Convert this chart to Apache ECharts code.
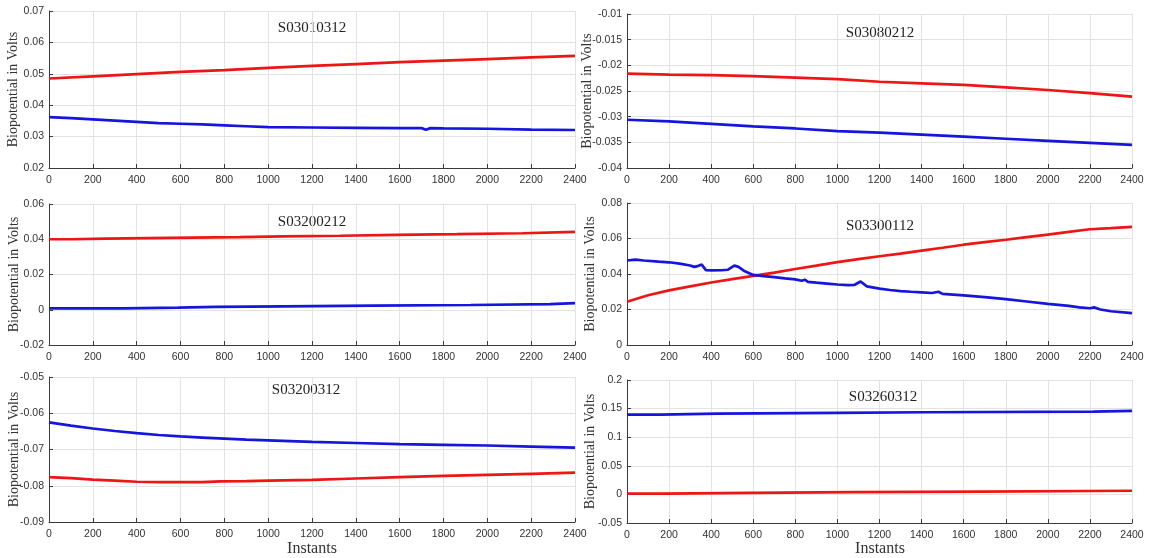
<!DOCTYPE html>
<html>
<head>
<meta charset="utf-8">
<script src="https://cdn.jsdelivr.net/npm/echarts@6/dist/echarts.min.js"></script>
<style>
  html, body { margin: 0; padding: 0; background: #fff; }
  #chart { width: 1157px; height: 558px; }
</style>
</head>
<body>
<div id="chart"></div>
<script>
// Recording names
const titles = ['S03010312', 'S03080212', 'S03200212', 'S03300112', 'S03200312', 'S03260312'];

// S03010312
const p1RedX  = [0, 200, 400, 600, 800, 1000, 1200, 1400, 1600, 1800, 2000, 2200, 2400];
const p1Red   = [0.0485, 0.0492, 0.0499, 0.0506, 0.0512, 0.0519, 0.0525, 0.0531, 0.0537, 0.0542, 0.0547, 0.0552, 0.0557];
const p1BlueX = [0, 100, 200, 300, 400, 500, 600, 700, 800, 900, 1000, 1200, 1400, 1600, 1700, 1720, 1740, 1800, 2000, 2200, 2400];
const p1Blue  = [0.0362, 0.0359, 0.0355, 0.0351, 0.0347, 0.0343, 0.0341, 0.0339, 0.0336, 0.0333, 0.0330, 0.0329, 0.0328, 0.0327, 0.0327, 0.0322, 0.0327, 0.0326, 0.0325, 0.0322, 0.0321];

// S03080212
const p2X    = [0, 200, 400, 600, 800, 1000, 1200, 1400, 1600, 1800, 2000, 2200, 2400];
const p2Red  = [-0.0216, -0.0218, -0.0219, -0.0221, -0.0224, -0.0227, -0.0232, -0.0235, -0.0238, -0.0243, -0.0248, -0.0254, -0.0261];
const p2Blue = [-0.0306, -0.0309, -0.0314, -0.0319, -0.0323, -0.0328, -0.0331, -0.0335, -0.0339, -0.0343, -0.0347, -0.0351, -0.0355];

// S03200212 (quantised, step changes)
const p3RedX  = [0, 100, 260, 450, 650, 870, 1070, 1330, 1580, 1860, 2160, 2400];
const p3Red   = [0.0400, 0.0403, 0.0406, 0.0409, 0.0412, 0.0416, 0.0420, 0.0425, 0.0429, 0.0434, 0.0442, 0.0442];
const p3BlueX = [0, 340, 590, 760, 1070, 1480, 1925, 2286, 2400];
const p3Blue  = [0.0008, 0.0012, 0.0016, 0.0019, 0.0023, 0.0027, 0.0032, 0.0038, 0.0038];

// S03300112
const p4RedX  = [0, 100, 200, 300, 400, 500, 600, 700, 800, 900, 1000, 1100, 1200, 1300, 1400, 1500, 1600, 1700, 1800, 1900, 2000, 2100, 2200, 2300, 2400];
const p4Red   = [0.0244, 0.0280, 0.0308, 0.0330, 0.0352, 0.0371, 0.0389, 0.0408, 0.0428, 0.0447, 0.0467, 0.0484, 0.0500, 0.0515, 0.0532, 0.0548, 0.0565, 0.0580, 0.0593, 0.0608, 0.0622, 0.0637, 0.0652, 0.0658, 0.0665];
const p4BlueX = [0, 40, 80, 150, 200, 250, 300, 320, 340, 355, 375, 400, 450, 480, 510, 530, 560, 600, 650, 700, 750, 800, 830, 845, 860, 900, 950, 1000, 1050, 1080, 1110, 1140, 1200, 1250, 1300, 1350, 1400, 1450, 1480, 1500, 1550, 1600, 1700, 1800, 1900, 2000, 2100, 2150, 2200, 2220, 2250, 2300, 2400];
const p4Blue  = [0.0476, 0.0481, 0.0476, 0.0470, 0.0466, 0.0458, 0.0448, 0.0440, 0.0446, 0.0453, 0.0422, 0.0420, 0.0421, 0.0424, 0.0447, 0.0440, 0.0415, 0.0395, 0.0388, 0.0382, 0.0375, 0.0370, 0.0362, 0.0368, 0.0356, 0.0351, 0.0346, 0.0341, 0.0337, 0.0338, 0.0358, 0.0330, 0.0318, 0.0310, 0.0304, 0.0300, 0.0297, 0.0293, 0.0300, 0.0288, 0.0284, 0.0280, 0.0270, 0.0258, 0.0245, 0.0232, 0.0220, 0.0212, 0.0207, 0.0212, 0.0200, 0.0190, 0.0180];

// S03200312
const p5BlueX = [0, 100, 200, 300, 400, 500, 600, 700, 800, 900, 1000, 1200, 1400, 1600, 1800, 2000, 2200, 2400];
const p5Blue  = [-0.0625, -0.0634, -0.0642, -0.0649, -0.0655, -0.0660, -0.0664, -0.0667, -0.0670, -0.0673, -0.0675, -0.0679, -0.0682, -0.0685, -0.0687, -0.0689, -0.0692, -0.0695];
const p5RedX  = [0, 100, 200, 300, 400, 500, 600, 700, 780, 900, 1000, 1200, 1400, 1600, 1800, 2000, 2200, 2400];
const p5Red   = [-0.0776, -0.0779, -0.0783, -0.0786, -0.0789, -0.0790, -0.0790, -0.0790, -0.0788, -0.0787, -0.0786, -0.0784, -0.0780, -0.0776, -0.0773, -0.0770, -0.0767, -0.0764];

// S03260312 (quantised, step changes)
const p6BlueX = [0, 160, 430, 1000, 1420, 2217, 2400];
const p6Blue  = [0.1395, 0.1412, 0.1425, 0.1436, 0.1447, 0.1460, 0.1460];
const p6RedX  = [0, 180, 586, 1078, 1685, 2400];
const p6Red   = [0.0012, 0.0027, 0.0040, 0.0050, 0.0064, 0.0064];

// y-axis ranges per panel: [min, max, interval]
const yRanges = [
  [0.02, 0.07, 0.01],
  [-0.04, -0.01, 0.005],
  [-0.02, 0.06, 0.02],
  [0, 0.08, 0.02],
  [-0.09, -0.05, 0.01],
  [-0.05, 0.2, 0.05]
];

// panel placement in pixels: [left, top, right, bottom]
const boxes = [
  [49, 11, 575, 168],
  [627, 14, 1132, 168],
  [49, 204, 575, 345],
  [627, 203, 1132, 345],
  [49, 377, 575, 522],
  [627, 380, 1132, 523]
];
// horizontal centre of each vertical y caption
const captionX = [13, 587, 14, 590, 14, 590];

const zip = (xs, ys) => xs.map((x, i) => [x, ys[i]]);

const panels = [
  { red: zip(p1RedX, p1Red), blue: zip(p1BlueX, p1Blue), step: false },
  { red: zip(p2X, p2Red), blue: zip(p2X, p2Blue), step: false },
  { red: zip(p3RedX, p3Red), blue: zip(p3BlueX, p3Blue), step: true },
  { red: zip(p4RedX, p4Red), blue: zip(p4BlueX, p4Blue), step: false },
  { red: zip(p5RedX, p5Red), blue: zip(p5BlueX, p5Blue), step: false },
  { red: zip(p6RedX, p6Red), blue: zip(p6BlueX, p6Blue), step: true }
];

const RED = '#ee1515';
const BLUE = '#1515dd';
const AXIS = '#3a3a3a';
const GRID = '#e3e3e3';
const TICK_FONT = { color: '#333', fontSize: 10.5, fontFamily: 'Liberation Sans, Arial, sans-serif' };
const SERIF = 'Liberation Serif, Times New Roman, serif';

const fmt = v => String(+v.toFixed(6));

const grid = [], xAxis = [], yAxis = [], series = [], graphic = [];

boxes.forEach((b, i) => {
  const [l, t, r, btm] = b;
  grid.push({ left: l, top: t, width: r - l, height: btm - t, containLabel: false });
  xAxis.push({
    type: 'value', gridIndex: i, min: 0, max: 2400, interval: 200,
    axisLine: { show: true, onZero: false, lineStyle: { color: AXIS, width: 1 } },
    axisTick: { show: true, inside: true, length: 4, lineStyle: { color: AXIS } },
    axisLabel: Object.assign({ margin: 7, formatter: fmt }, TICK_FONT),
    splitLine: { show: true, lineStyle: { color: GRID, width: 1 } }
  });
  const [mn, mx, iv] = yRanges[i];
  yAxis.push({
    type: 'value', gridIndex: i, min: mn, max: mx, interval: iv,
    axisLine: { show: true, onZero: false, lineStyle: { color: AXIS, width: 1 } },
    axisTick: { show: true, inside: true, length: 4, lineStyle: { color: AXIS } },
    axisLabel: Object.assign({ margin: 5, formatter: fmt }, TICK_FONT),
    splitLine: { show: true, lineStyle: { color: GRID, width: 1 } }
  });
  const p = panels[i];
  [['red', RED], ['blue', BLUE]].forEach(([k, c]) => {
    series.push({
      type: 'line', xAxisIndex: i, yAxisIndex: i, data: p[k],
      step: p.step ? 'end' : false,
      showSymbol: false, silent: true, animation: false,
      lineStyle: { color: c, width: 2.7 }
    });
  });
  // vertical y-axis caption, read bottom to top
  graphic.push({
    type: 'text', x: captionX[i], y: (t + btm) / 2, rotation: Math.PI / 2,
    style: { text: 'Biopotential in Volts', fill: '#333', font: '14px ' + SERIF, textAlign: 'center', textVerticalAlign: 'middle' }
  });
});

// panel titles, drawn inside each plot
const titlePos = [[312, 28], [880, 33], [312, 222], [880, 226], [306, 390], [883, 397]];
titles.forEach((s, i) => {
  graphic.push({
    type: 'text', x: titlePos[i][0], y: titlePos[i][1],
    style: { text: s, fill: '#222', font: '15px ' + SERIF, textAlign: 'center', textVerticalAlign: 'middle' }
  });
});
// shared x-axis caption under the bottom row
[[312, 549], [880, 549]].forEach(([x, y]) => {
  graphic.push({
    type: 'text', x, y,
    style: { text: 'Instants', fill: '#333', font: '16px ' + SERIF, textAlign: 'center', textVerticalAlign: 'middle' }
  });
});

const chart = echarts.init(document.getElementById('chart'), null, { renderer: 'canvas' });
chart.setOption({ animation: false, backgroundColor: '#fff', grid, xAxis, yAxis, series, graphic });
</script>
</body>
</html>
